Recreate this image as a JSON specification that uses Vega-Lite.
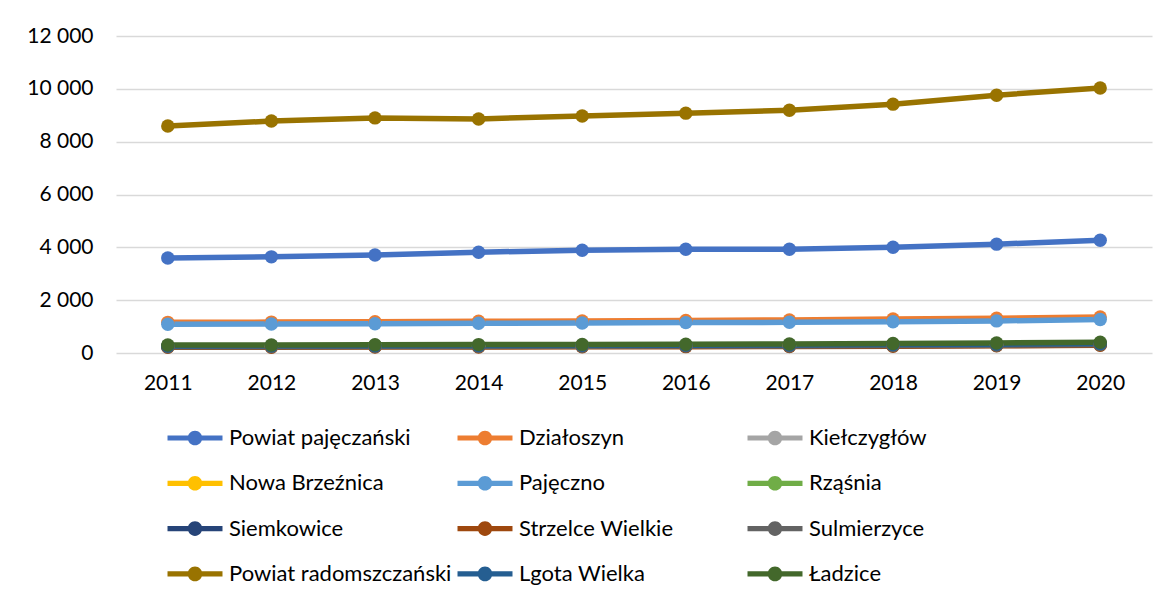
{
  "$schema": "https://vega.github.io/schema/vega-lite/v6.json",
  "width": 1036,
  "height": 317,
  "autosize": "none",
  "padding": {"left": 116, "top": 36, "right": 19, "bottom": 248},
  "background": "white",
  "config": {
    "font": "Lato",
    "view": {"stroke": null},
    "axis": {"labelFont": "Lato", "labelFontSize": 21, "labelColor": "#000000", "domain": false, "ticks": false, "title": null}
  },
  "data": {
    "values": [
      {"year": "2011", "series": "Powiat pajęczański", "value": 3596},
      {"year": "2012", "series": "Powiat pajęczański", "value": 3640},
      {"year": "2013", "series": "Powiat pajęczański", "value": 3710},
      {"year": "2014", "series": "Powiat pajęczański", "value": 3815},
      {"year": "2015", "series": "Powiat pajęczański", "value": 3890},
      {"year": "2016", "series": "Powiat pajęczański", "value": 3930},
      {"year": "2017", "series": "Powiat pajęczański", "value": 3925},
      {"year": "2018", "series": "Powiat pajęczański", "value": 4005},
      {"year": "2019", "series": "Powiat pajęczański", "value": 4120},
      {"year": "2020", "series": "Powiat pajęczański", "value": 4270},
      {"year": "2011", "series": "Działoszyn", "value": 1160},
      {"year": "2012", "series": "Działoszyn", "value": 1170},
      {"year": "2013", "series": "Działoszyn", "value": 1185},
      {"year": "2014", "series": "Działoszyn", "value": 1200},
      {"year": "2015", "series": "Działoszyn", "value": 1215},
      {"year": "2016", "series": "Działoszyn", "value": 1230},
      {"year": "2017", "series": "Działoszyn", "value": 1250},
      {"year": "2018", "series": "Działoszyn", "value": 1285},
      {"year": "2019", "series": "Działoszyn", "value": 1315},
      {"year": "2020", "series": "Działoszyn", "value": 1360},
      {"year": "2011", "series": "Kiełczygłów", "value": 235},
      {"year": "2012", "series": "Kiełczygłów", "value": 238},
      {"year": "2013", "series": "Kiełczygłów", "value": 242},
      {"year": "2014", "series": "Kiełczygłów", "value": 246},
      {"year": "2015", "series": "Kiełczygłów", "value": 250},
      {"year": "2016", "series": "Kiełczygłów", "value": 254},
      {"year": "2017", "series": "Kiełczygłów", "value": 260},
      {"year": "2018", "series": "Kiełczygłów", "value": 270},
      {"year": "2019", "series": "Kiełczygłów", "value": 282},
      {"year": "2020", "series": "Kiełczygłów", "value": 300},
      {"year": "2011", "series": "Nowa Brzeźnica", "value": 265},
      {"year": "2012", "series": "Nowa Brzeźnica", "value": 268},
      {"year": "2013", "series": "Nowa Brzeźnica", "value": 272},
      {"year": "2014", "series": "Nowa Brzeźnica", "value": 278},
      {"year": "2015", "series": "Nowa Brzeźnica", "value": 283},
      {"year": "2016", "series": "Nowa Brzeźnica", "value": 288},
      {"year": "2017", "series": "Nowa Brzeźnica", "value": 295},
      {"year": "2018", "series": "Nowa Brzeźnica", "value": 306},
      {"year": "2019", "series": "Nowa Brzeźnica", "value": 320},
      {"year": "2020", "series": "Nowa Brzeźnica", "value": 340},
      {"year": "2011", "series": "Pajęczno", "value": 1086},
      {"year": "2012", "series": "Pajęczno", "value": 1095},
      {"year": "2013", "series": "Pajęczno", "value": 1110},
      {"year": "2014", "series": "Pajęczno", "value": 1125},
      {"year": "2015", "series": "Pajęczno", "value": 1138},
      {"year": "2016", "series": "Pajęczno", "value": 1150},
      {"year": "2017", "series": "Pajęczno", "value": 1162},
      {"year": "2018", "series": "Pajęczno", "value": 1185},
      {"year": "2019", "series": "Pajęczno", "value": 1215},
      {"year": "2020", "series": "Pajęczno", "value": 1270},
      {"year": "2011", "series": "Rząśnia", "value": 250},
      {"year": "2012", "series": "Rząśnia", "value": 253},
      {"year": "2013", "series": "Rząśnia", "value": 257},
      {"year": "2014", "series": "Rząśnia", "value": 262},
      {"year": "2015", "series": "Rząśnia", "value": 266},
      {"year": "2016", "series": "Rząśnia", "value": 271},
      {"year": "2017", "series": "Rząśnia", "value": 277},
      {"year": "2018", "series": "Rząśnia", "value": 288},
      {"year": "2019", "series": "Rząśnia", "value": 300},
      {"year": "2020", "series": "Rząśnia", "value": 318},
      {"year": "2011", "series": "Siemkowice", "value": 258},
      {"year": "2012", "series": "Siemkowice", "value": 262},
      {"year": "2013", "series": "Siemkowice", "value": 266},
      {"year": "2014", "series": "Siemkowice", "value": 270},
      {"year": "2015", "series": "Siemkowice", "value": 275},
      {"year": "2016", "series": "Siemkowice", "value": 280},
      {"year": "2017", "series": "Siemkowice", "value": 286},
      {"year": "2018", "series": "Siemkowice", "value": 296},
      {"year": "2019", "series": "Siemkowice", "value": 310},
      {"year": "2020", "series": "Siemkowice", "value": 330},
      {"year": "2011", "series": "Strzelce Wielkie", "value": 215},
      {"year": "2012", "series": "Strzelce Wielkie", "value": 220},
      {"year": "2013", "series": "Strzelce Wielkie", "value": 225},
      {"year": "2014", "series": "Strzelce Wielkie", "value": 230},
      {"year": "2015", "series": "Strzelce Wielkie", "value": 236},
      {"year": "2016", "series": "Strzelce Wielkie", "value": 241},
      {"year": "2017", "series": "Strzelce Wielkie", "value": 247},
      {"year": "2018", "series": "Strzelce Wielkie", "value": 257},
      {"year": "2019", "series": "Strzelce Wielkie", "value": 270},
      {"year": "2020", "series": "Strzelce Wielkie", "value": 290},
      {"year": "2011", "series": "Sulmierzyce", "value": 235},
      {"year": "2012", "series": "Sulmierzyce", "value": 240},
      {"year": "2013", "series": "Sulmierzyce", "value": 245},
      {"year": "2014", "series": "Sulmierzyce", "value": 250},
      {"year": "2015", "series": "Sulmierzyce", "value": 256},
      {"year": "2016", "series": "Sulmierzyce", "value": 261},
      {"year": "2017", "series": "Sulmierzyce", "value": 268},
      {"year": "2018", "series": "Sulmierzyce", "value": 280},
      {"year": "2019", "series": "Sulmierzyce", "value": 295},
      {"year": "2020", "series": "Sulmierzyce", "value": 318},
      {"year": "2011", "series": "Powiat radomszczański", "value": 8590},
      {"year": "2012", "series": "Powiat radomszczański", "value": 8780},
      {"year": "2013", "series": "Powiat radomszczański", "value": 8900},
      {"year": "2014", "series": "Powiat radomszczański", "value": 8860},
      {"year": "2015", "series": "Powiat radomszczański", "value": 8970},
      {"year": "2016", "series": "Powiat radomszczański", "value": 9080},
      {"year": "2017", "series": "Powiat radomszczański", "value": 9190},
      {"year": "2018", "series": "Powiat radomszczański", "value": 9420},
      {"year": "2019", "series": "Powiat radomszczański", "value": 9760},
      {"year": "2020", "series": "Powiat radomszczański", "value": 10030},
      {"year": "2011", "series": "Lgota Wielka", "value": 268},
      {"year": "2012", "series": "Lgota Wielka", "value": 273},
      {"year": "2013", "series": "Lgota Wielka", "value": 278},
      {"year": "2014", "series": "Lgota Wielka", "value": 285},
      {"year": "2015", "series": "Lgota Wielka", "value": 291},
      {"year": "2016", "series": "Lgota Wielka", "value": 297},
      {"year": "2017", "series": "Lgota Wielka", "value": 305},
      {"year": "2018", "series": "Lgota Wielka", "value": 318},
      {"year": "2019", "series": "Lgota Wielka", "value": 335},
      {"year": "2020", "series": "Lgota Wielka", "value": 362},
      {"year": "2011", "series": "Ładzice", "value": 300},
      {"year": "2012", "series": "Ładzice", "value": 305},
      {"year": "2013", "series": "Ładzice", "value": 311},
      {"year": "2014", "series": "Ładzice", "value": 318},
      {"year": "2015", "series": "Ładzice", "value": 325},
      {"year": "2016", "series": "Ładzice", "value": 332},
      {"year": "2017", "series": "Ładzice", "value": 341},
      {"year": "2018", "series": "Ładzice", "value": 357},
      {"year": "2019", "series": "Ładzice", "value": 378},
      {"year": "2020", "series": "Ładzice", "value": 410}
    ]
  },
  "encoding": {
    "x": {
      "field": "year", "type": "ordinal",
      "scale": {"type": "point", "padding": 0.5},
      "axis": {"labelAngle": 0, "labelPadding": 19, "grid": false}
    },
    "y": {
      "field": "value", "type": "quantitative",
      "scale": {"domain": [0, 12000], "nice": false},
      "axis": {
        "values": [0, 2000, 4000, 6000, 8000, 10000, 12000],
        "labelExpr": "replace(format(datum.value, ','), ',', ' ')",
        "labelPadding": 23,
        "grid": true, "gridColor": "#d9d9d9", "gridWidth": 1.5
      }
    },
    "color": {
      "field": "series", "type": "nominal",
      "scale": {
        "domain": ["Powiat pajęczański", "Działoszyn", "Kiełczygłów", "Nowa Brzeźnica", "Pajęczno", "Rząśnia", "Siemkowice", "Strzelce Wielkie", "Sulmierzyce", "Powiat radomszczański", "Lgota Wielka", "Ładzice"],
        "range": ["#4472C4", "#ED7D31", "#A5A5A5", "#FFC000", "#5B9BD5", "#70AD47", "#264478", "#9E480E", "#636363", "#997300", "#255E91", "#43682B"]
      },
      "legend": {
        "title": null,
        "orient": "none",
        "legendX": 65,
        "legendY": 388,
        "direction": "horizontal",
        "columns": 3,
        "gridAlign": "all",
        "padding": 0,
        "columnPadding": 5,
        "rowPadding": 20.3,
        "symbolType": "M-2,-0.19 L2,-0.19 L2,0.19 L-2,0.19 Z M-0.53,0 A0.53,0.53 0 1,1 0.53,0 A0.53,0.53 0 1,1 -0.53,0 Z",
        "symbolSize": 756,
        "symbolStrokeWidth": 0,
        "symbolOpacity": 1,
        "labelFont": "Lato",
        "labelFontSize": 22,
        "labelColor": "#000000",
        "labelOffset": 20,
        "labelLimit": 400
      }
    }
  },
  "layer": [
    {"mark": {"type": "line", "strokeWidth": 5.5}},
    {"mark": {"type": "circle", "size": 180, "opacity": 1}}
  ]
}
